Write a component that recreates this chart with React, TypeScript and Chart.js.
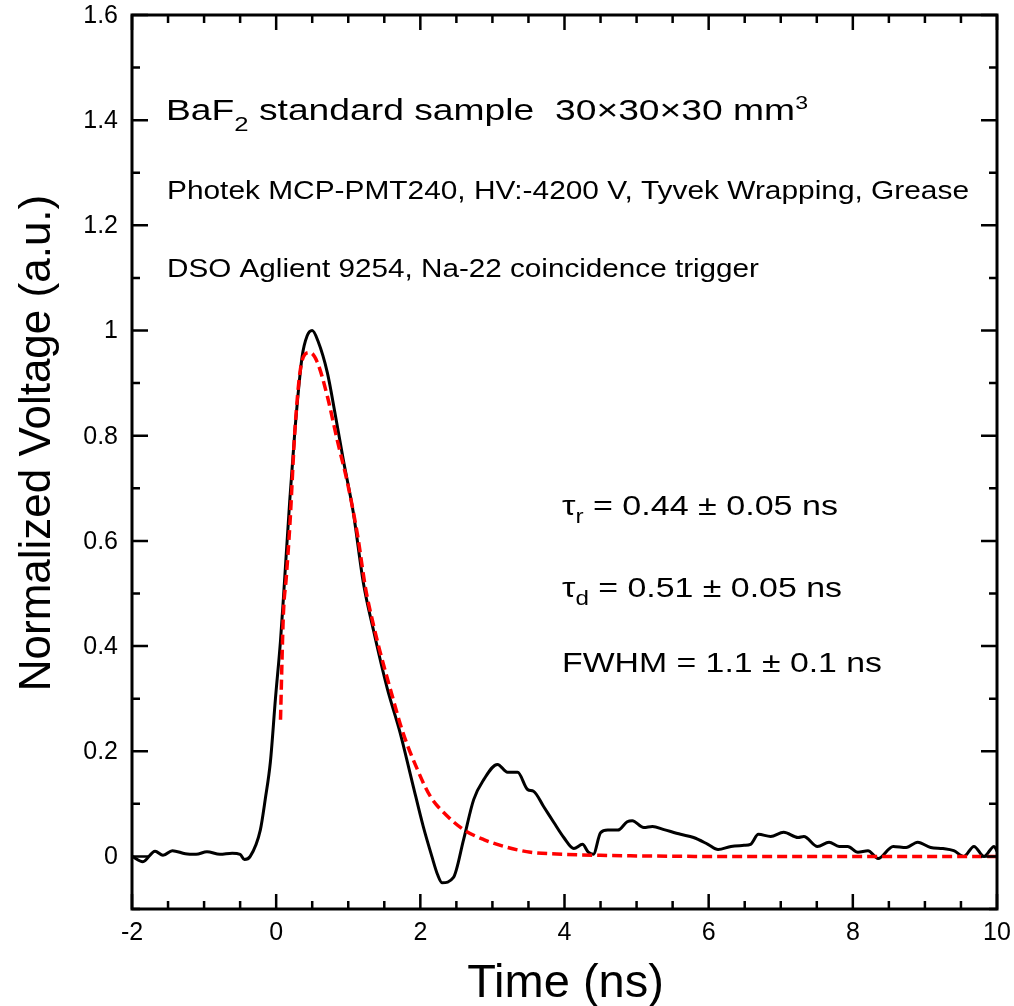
import React, { useEffect, useRef } from "react";
import { Chart, registerables } from "chart.js";

Chart.register(...registerables);

// ---- data ----
const signalTime = [
  -2.0, -1.85, -1.68, -1.57, -1.44, -1.26, -1.11, -0.96, -0.78, -0.61, -0.5, -0.44, -0.36,
  -0.22, -0.15, -0.08, -0.01, 0.06, 0.1, 0.19, 0.26, 0.36, 0.43, 0.5, 0.58, 0.71, 0.82, 0.93,
  1.07, 1.21, 1.35, 1.54, 1.72, 1.89, 2.04, 2.16, 2.24, 2.3, 2.46, 2.6, 2.74, 2.88, 3.07, 3.21,
  3.35, 3.49, 3.57, 3.71, 3.85, 3.99, 4.13, 4.25, 4.33, 4.4, 4.5, 4.6, 4.74, 4.87, 4.94, 5.1,
  5.22, 5.38, 5.61, 5.79, 5.99, 6.13, 6.31, 6.49, 6.58, 6.69, 6.86, 7.04, 7.24, 7.32, 7.51,
  7.67, 7.81, 7.93, 8.07, 8.21, 8.35, 8.56, 8.74, 8.9, 9.08, 9.25, 9.4, 9.54, 9.68, 9.82, 9.96, 10.0,
];
const signalVoltage = [
  0.0, -0.01, 0.01, 0.002, 0.011, 0.005, 0.004, 0.009, 0.004, 0.006, 0.004, -0.006, 0.0,
  0.05, 0.11, 0.18, 0.3, 0.41, 0.49, 0.68, 0.81, 0.95, 0.99, 1.0, 0.98, 0.92, 0.84, 0.755,
  0.654, 0.52, 0.43, 0.32, 0.235, 0.14, 0.057, 0.0, -0.035, -0.05, -0.04, 0.032, 0.108, 0.146, 0.175, 0.16,
  0.16, 0.127, 0.124, 0.095, 0.065, 0.036, 0.015, 0.023, 0.008, 0.004, 0.045, 0.05, 0.05, 0.066, 0.068, 0.055,
  0.057, 0.051, 0.042, 0.036, 0.023, 0.013, 0.019, 0.021, 0.023, 0.042, 0.038, 0.046, 0.036, 0.038, 0.019,
  0.027, 0.019, 0.019, 0.008, 0.011, -0.004, 0.019, 0.017, 0.027, 0.017, 0.015, 0.011, 0.0, 0.019, 0.0, 0.019, 0.01,
];

const fitTime = [
  0.06, 0.1, 0.14, 0.19, 0.26, 0.33, 0.4, 0.47, 0.57, 0.71, 0.85, 0.99, 1.13, 1.24, 1.35, 1.44,
  1.58, 1.76, 1.96, 2.14, 2.38, 2.6, 2.88, 3.21, 3.53, 4.0, 4.5, 5.0, 6.0, 7.0, 8.0, 9.0, 10.0,
];
const fitVoltage = [
  0.26, 0.46, 0.53, 0.63, 0.81, 0.92, 0.955, 0.958, 0.94, 0.875, 0.79, 0.71, 0.61, 0.51, 0.44, 0.39,
  0.32, 0.235, 0.165, 0.114, 0.076, 0.051, 0.032, 0.017, 0.008, 0.004, 0.002, 0.001, 0.0, 0.0, 0.0, 0.0, 0.0,
];

const xMajorTicks = [-2, 0, 2, 4, 6, 8, 10];
const xTickLabels = ["-2", "0", "2", "4", "6", "8", "10"];
const xMinorTicks = [-1.5, -1, -0.5, 0.5, 1, 1.5, 2.5, 3, 3.5, 4.5, 5, 5.5, 6.5, 7, 7.5, 8.5, 9, 9.5];
const yMajorTicks = [0, 0.2, 0.4, 0.6, 0.8, 1, 1.2, 1.4, 1.6];
const yTickLabels = ["0", "0.2", "0.4", "0.6", "0.8", "1", "1.2", "1.4", "1.6"];
const yMinorTicks = [-0.1, 0.1, 0.3, 0.5, 0.7, 0.9, 1.1, 1.3, 1.5];

const xTitle = "Time (ns)";
const yTitle = "Normalized Voltage (a.u.)";

const FONT = 'Arial, "Liberation Sans", sans-serif';

type Run = { t: string; size: number; dy: number };
type Note = { runs: Run[]; x: number; y: number; w: number };

const notes: Note[] = [
  {
    runs: [
      { t: "BaF", size: 29, dy: 0 },
      { t: "2", size: 20, dy: 11 },
      { t: " standard sample  30\u00d730\u00d730 mm", size: 29, dy: 0 },
      { t: "3", size: 18, dy: -11 },
    ],
    x: 166, y: 120, w: 642,
  },
  { runs: [{ t: "Photek MCP-PMT240, HV:-4200 V, Tyvek Wrapping, Grease", size: 25, dy: 0 }], x: 167, y: 199, w: 802 },
  { runs: [{ t: "DSO Aglient 9254, Na-22 coincidence trigger", size: 25, dy: 0 }], x: 167, y: 277, w: 592 },
  {
    runs: [
      { t: "\u03c4", size: 28, dy: 0 },
      { t: "r", size: 20, dy: 8 },
      { t: " = 0.44 \u00b1 0.05 ns", size: 28, dy: 0 },
    ],
    x: 562, y: 515, w: 276,
  },
  {
    runs: [
      { t: "\u03c4", size: 28, dy: 0 },
      { t: "d", size: 20, dy: 8 },
      { t: " = 0.51 \u00b1 0.05 ns", size: 28, dy: 0 },
    ],
    x: 562, y: 597, w: 280,
  },
  { runs: [{ t: "FWHM = 1.1 \u00b1 0.1 ns", size: 28, dy: 0 }], x: 562, y: 672, w: 320 },
];

function drawRuns(ctx: CanvasRenderingContext2D, note: Note) {
  let natural = 0;
  for (const r of note.runs) {
    ctx.font = `${r.size}px ${FONT}`;
    natural += ctx.measureText(r.t).width;
  }
  const sx = note.w / natural;
  ctx.save();
  ctx.translate(note.x, note.y);
  ctx.scale(sx, 1);
  ctx.fillStyle = "#000";
  ctx.textAlign = "left";
  ctx.textBaseline = "alphabetic";
  let cx = 0;
  for (const r of note.runs) {
    ctx.font = `${r.size}px ${FONT}`;
    ctx.fillText(r.t, cx, r.dy);
    cx += ctx.measureText(r.t).width;
  }
  ctx.restore();
}

const framePlugin = {
  id: "framePlugin",
  afterDraw(chart: any) {
    const ctx: CanvasRenderingContext2D = chart.ctx;
    const { left, right, top, bottom } = chart.chartArea;
    const xs = chart.scales.x;
    const ys = chart.scales.y;
    ctx.save();
    ctx.strokeStyle = "#000";
    ctx.lineCap = "butt";

    // ticks
    ctx.lineWidth = 2.5;
    const drawXTick = (v: number, len: number) => {
      const px = xs.getPixelForValue(v);
      ctx.beginPath();
      ctx.moveTo(px, bottom);
      ctx.lineTo(px, bottom - len);
      ctx.moveTo(px, top);
      ctx.lineTo(px, top + len);
      ctx.stroke();
    };
    const drawYTick = (v: number, len: number) => {
      const py = ys.getPixelForValue(v);
      ctx.beginPath();
      ctx.moveTo(left, py);
      ctx.lineTo(left + len, py);
      ctx.moveTo(right, py);
      ctx.lineTo(right - len, py);
      ctx.stroke();
    };
    xMajorTicks.forEach((v) => drawXTick(v, 15));
    xMinorTicks.forEach((v) => drawXTick(v, 8));
    yMajorTicks.forEach((v) => drawYTick(v, 16));
    yMinorTicks.forEach((v) => drawYTick(v, 8));

    // frame
    ctx.lineWidth = 3;
    ctx.strokeRect(left, top, right - left, bottom - top);

    // tick labels
    ctx.fillStyle = "#000";
    ctx.font = `25px ${FONT}`;
    ctx.textAlign = "center";
    ctx.textBaseline = "alphabetic";
    xMajorTicks.forEach((v, i) => {
      ctx.fillText(xTickLabels[i], xs.getPixelForValue(v), 940);
    });
    ctx.textAlign = "right";
    ctx.textBaseline = "middle";
    yMajorTicks.forEach((v, i) => {
      ctx.fillText(yTickLabels[i], 118, ys.getPixelForValue(v) + 1);
    });

    // axis titles
    ctx.textAlign = "center";
    ctx.textBaseline = "alphabetic";
    ctx.font = `47px ${FONT}`;
    ctx.fillText(xTitle, (left + right) / 2 + 1, 997);
    ctx.save();
    ctx.translate(50, 443);
    ctx.rotate(-Math.PI / 2);
    ctx.font = `44px ${FONT}`;
    ctx.fillText(yTitle, 0, 0);
    ctx.restore();

    // annotations
    notes.forEach((n) => drawRuns(ctx, n));
    ctx.restore();
  },
};

export default function App() {
  const canvasRef = useRef<HTMLCanvasElement | null>(null);

  useEffect(() => {
    const canvas = canvasRef.current;
    if (!canvas) return;
    const chart = new Chart(canvas, {
      type: "line",
      data: {
        datasets: [
          {
            label: "Fit",
            data: fitTime.map((x, i) => ({ x, y: fitVoltage[i] })),
            borderColor: "#ff0000",
            borderWidth: 3.5,
            borderDash: [10, 5],
            pointRadius: 0,
            fill: false,
            cubicInterpolationMode: "monotone",
          },
          {
            label: "Signal",
            data: signalTime.map((x, i) => ({ x, y: signalVoltage[i] })),
            borderColor: "#000000",
            borderWidth: 3,
            pointRadius: 0,
            fill: false,
            cubicInterpolationMode: "monotone",
          },
        ],
      },
      options: {
        responsive: false,
        animation: false,
        devicePixelRatio: 1,
        layout: { padding: { left: 132, top: 15, right: 17, bottom: 97 } },
        scales: {
          x: { type: "linear", min: -2, max: 10, display: false },
          y: { type: "linear", min: -0.1, max: 1.6, display: false },
        },
        plugins: {
          legend: { display: false },
          tooltip: { enabled: false },
        },
      },
      plugins: [framePlugin],
    } as any);
    return () => chart.destroy();
  }, []);

  return (
    <div style={{ position: "absolute", left: 0, top: 0, width: 1014, height: 1006, background: "#fff" }}>
      <canvas ref={canvasRef} width={1014} height={1006} style={{ display: "block" }} />
    </div>
  );
}
